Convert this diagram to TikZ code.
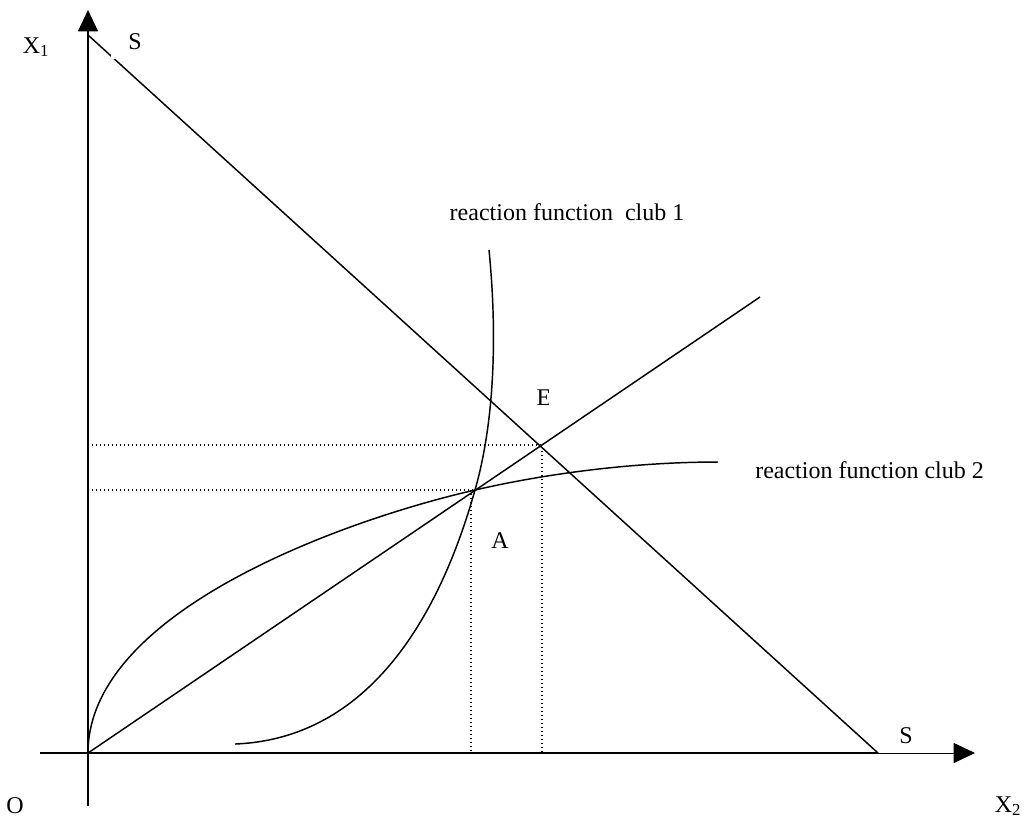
\documentclass[tikz,border=0pt]{standalone}
\usepackage{fontspec}
\setmainfont{Liberation Serif}
\usetikzlibrary{arrows.meta}
\begin{document}
\begin{tikzpicture}[x=0.75pt,y=-0.75pt,
  lbl/.style={font=\fontsize{18}{20}\selectfont, inner sep=0pt},
  main/.style={line width=1.1pt},
  thin/.style={line width=0.7pt},
  dots/.style={line width=1pt, dash pattern=on 1.1pt off 1.9pt},
  tip/.style={-{Triangle[length=16pt,width=15pt]}}]
\useasboundingbox (0,0) rectangle (1030,819);
% key points
\coordinate (O) at (88,753);
\coordinate (Ytop) at (88,10);
\coordinate (Ybot) at (88,806);
\coordinate (Xl) at (40,753);
\coordinate (Xr) at (975,753);
\coordinate (S1) at (88,35);
\coordinate (S2) at (878,753);
\coordinate (R) at (760,297);
\coordinate (E) at (542,445);
\coordinate (A) at (475,490);
\coordinate (Ax) at (471,490);
\coordinate (Ey) at (88,445);
\coordinate (Ay) at (88,490);
\coordinate (C1s) at (235,744);
\coordinate (C1e) at (489,250);
\coordinate (C2e) at (718,462);
% axes
\draw[main,tip] (Ybot) -- (Ytop);
\draw[main] (Xl) -- (S2);
\draw[thin,tip] (S2) -- (Xr);
% budget line S-S and ray
\draw[main] (S1) -- (S2);
\draw[main] (O) -- (R);
% dotted guides
\draw[dots] (Ey) -- (E) -- (E |- O);
\draw[dots] (Ay) -- (A);
\draw[dots] (Ax) -- (Ax |- O);
% reaction function club 1
\draw[main] (C1s) .. controls (385,738) and (448,586) .. (A)
                  .. controls (497,413) and (496,320) .. (C1e);
% reaction function club 2
\draw[main] (O) .. controls (88,610) and (348,519) .. (A)
                .. controls (553,472) and (640,462) .. (C2e);
% labels
\node[lbl] (x1) at (36,47) {X\textsubscript{1}};
\node[lbl] (x2) at (1008,806) {X\textsubscript{2}};
\node[lbl] (o) at (15,806) {O};
\fill[white] (111,18) rectangle (139,58.5);
\begin{scope}
  \clip (111,18) rectangle (139,58.5);
  \node[lbl] (st) at (135,42) {S};
\end{scope}
\node[lbl] (sb) at (906,736) {S};
\begin{scope}
  \clip (530,380) rectangle (548,415);
  \node[lbl] (e) at (544,398) {E};
\end{scope}
\node[lbl] (a) at (500,541) {A};
\node[lbl] (c1) at (567,212) {reaction function\ \ club 1};
\node[lbl, anchor=west] (c2) at (755,470) {reaction function club 2};
\end{tikzpicture}
\end{document}
